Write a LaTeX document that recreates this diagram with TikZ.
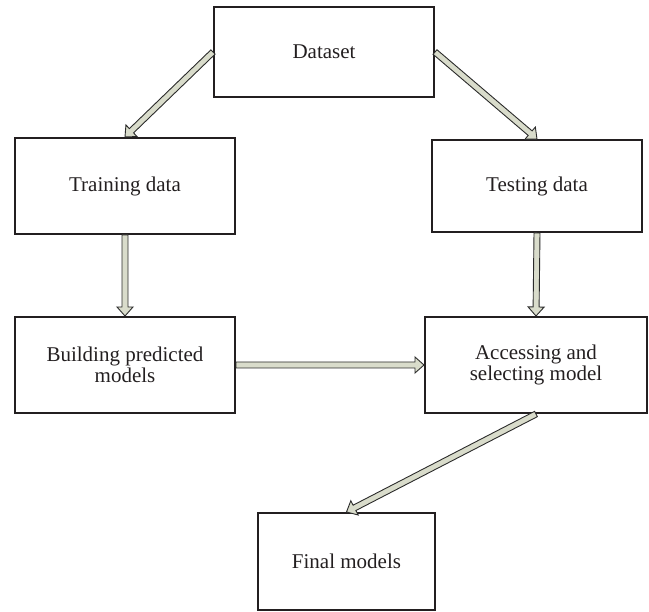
\documentclass[tikz,border=0pt]{standalone}
\usepackage{fontspec}
\setmainfont{Liberation Serif}
\usetikzlibrary{calc}
\definecolor{boxline}{HTML}{231F20}
\definecolor{arrowfill}{HTML}{D9DCCB}
\definecolor{arrowline}{HTML}{2B2B2B}
\begin{document}
\begin{tikzpicture}[x=1pt,y=-1pt,
  box/.style={draw=boxline, line width=2pt, rectangle, inner sep=0pt, align=center,
    text=boxline, font=\fontsize{21}{21.5}\selectfont},
  fat/.style={draw=arrowline, fill=arrowfill, line width=0.9pt, line join=miter,
    to path={let \p1=(\tikztostart), \p2=(\tikztotarget), \p3=($(\p2)!9pt!(\p1)$) in
      ($(\p1)!3pt!90:(\p2)$) -- ($(\p3)!3pt!-90:(\p1)$) -- ($(\p3)!8pt!-90:(\p1)$) -- (\p2)
      -- ($(\p3)!8pt!90:(\p1)$) -- ($(\p3)!3pt!90:(\p1)$) -- ($(\p1)!3pt!-90:(\p2)$) -- cycle}}
]
\useasboundingbox (0,0) rectangle (649,612);
\node[box, minimum width=220pt, minimum height=90pt] (ds) at (324,52) {Dataset};
\node[box, minimum width=220pt, minimum height=96pt] (tr) at (125,186) {Training data};
\node[box, minimum width=210pt, minimum height=92pt] (te) at (537,186) {Testing data};
\node[box, minimum width=220pt, minimum height=96pt] (bu) at (125,365) {Building predicted\\models};
\node[box, minimum width=222pt, minimum height=96pt] (ac) at (536,365) {Accessing and\\selecting model};
\node[box, minimum width=177pt, minimum height=97pt] (fi) at (346.5,561.5) {Final models};
\draw[fat] (ds.west) to (tr.north);
\draw[fat] (ds.east) to (te.north);
\draw[fat] (tr.south) to (bu.north);
\draw[fat] (te.south) to (ac.north);
\draw[fat] (bu.east) to (ac.west);
\draw[fat] (ac.south) to (fi.north);
\end{tikzpicture}
\end{document}
